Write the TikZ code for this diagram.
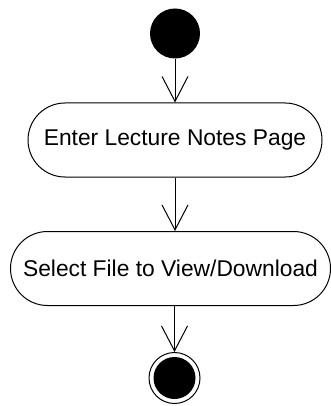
\documentclass[tikz,border=0pt]{standalone}
\usepackage{fontspec}
\setmainfont{Liberation Sans}
\usetikzlibrary{arrows.meta}
\begin{document}
\begin{tikzpicture}[x=1pt,y=-1pt,
  activity/.style={draw=black, line width=1pt, rounded corners=37pt, minimum height=74pt, inner sep=0pt, font=\fontsize{22.8}{27}\selectfont},
  flow/.style={draw=black, line width=1pt, -{Straight Barb[length=25pt,width=26pt,line width=1pt]}},
  initial/.style={circle, fill=black, minimum size=50pt, inner sep=0pt},
  finalouter/.style={circle, draw=black, line width=1pt, fill=white, minimum size=51pt, inner sep=0pt},
  finalinner/.style={circle, fill=black, minimum size=42pt, inner sep=0pt}]
\useasboundingbox (0,0) rectangle (331,406);
\node[initial] (start) at (175,33.5) {};
\node[activity, minimum width=294pt] (enter) at (175,140) {Enter Lecture Notes Page};
\node[activity, minimum width=320pt] (select) at (170.5,268.5) {Select File to View/Download};
\node[finalouter] (final) at (174.5,378) {};
\node[finalinner] (finaldot) at (final) {};
\draw[flow] (start) -- (enter);
\draw[flow] (enter.south) -- (enter.south |- select.north);
\draw[flow] (final.north |- select.south) -- (final);
\end{tikzpicture}
\end{document}
